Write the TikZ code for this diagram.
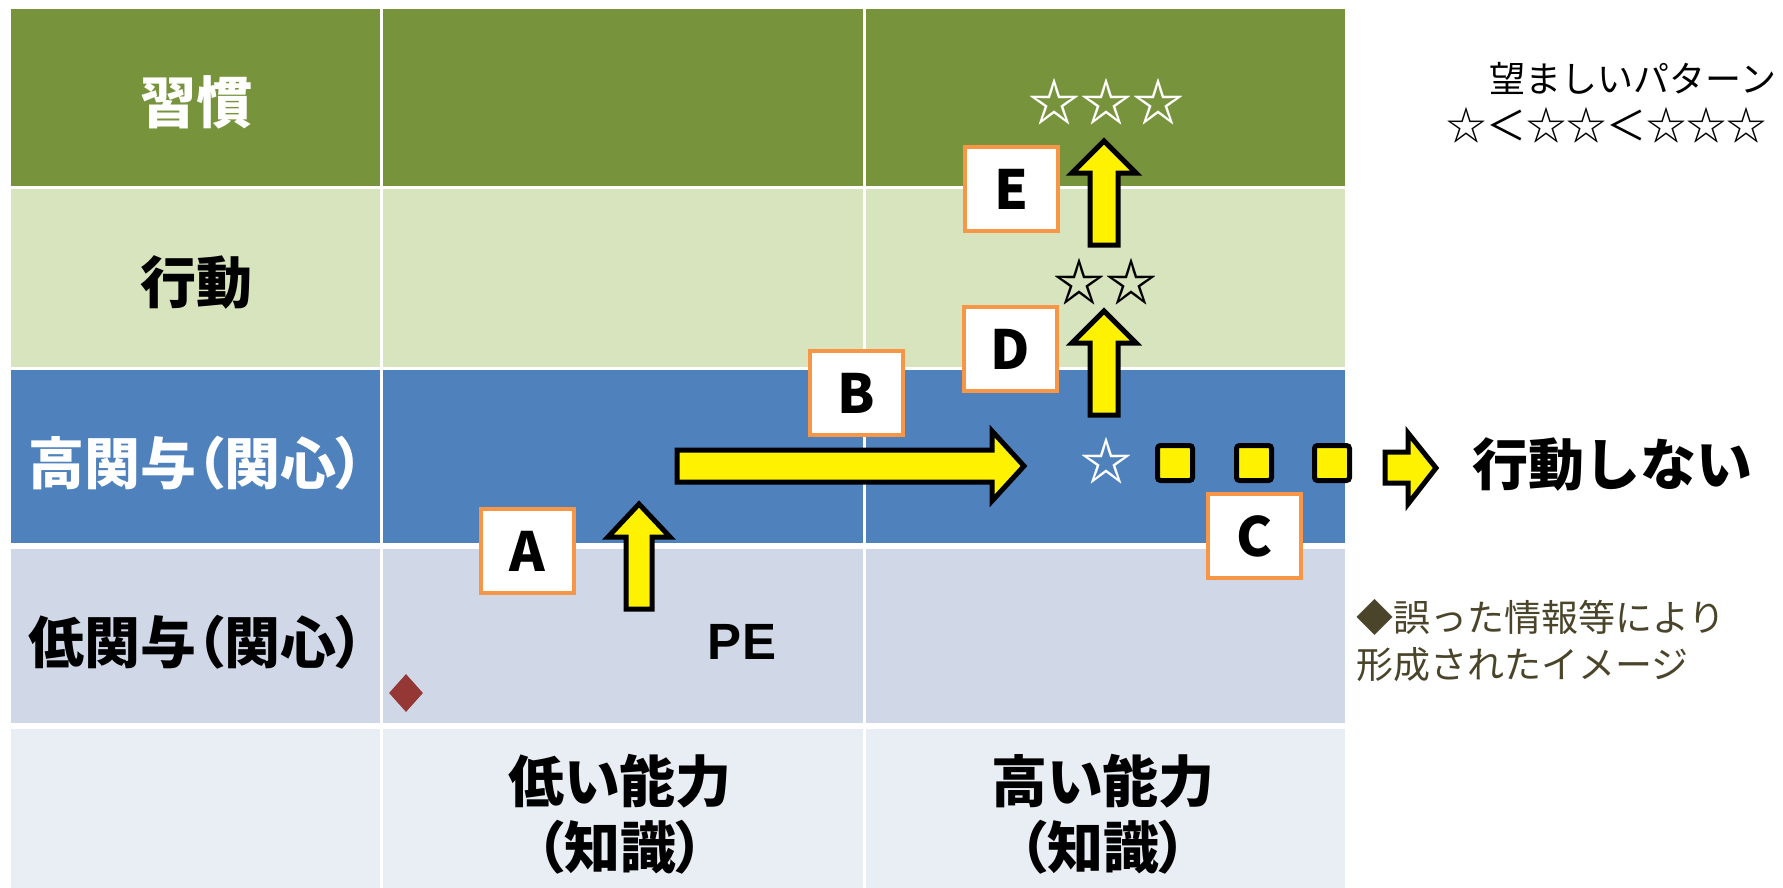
\documentclass[tikz,border=0pt]{standalone}
\usepackage{fontspec}
\setmainfont{Noto Sans CJK JP}
\newfontfamily\jpp{Noto Sans CJK JP}[RawFeature=+palt]
\newfontfamily\latin{Liberation Sans}
\usetikzlibrary{shapes.geometric}
\definecolor{habitgreen}{RGB}{119,147,60}
\definecolor{actgreen}{RGB}{215,228,189}
\definecolor{highblue}{RGB}{79,129,189}
\definecolor{lowgray}{RGB}{208,216,232}
\definecolor{basegray}{RGB}{233,237,244}
\definecolor{boxorange}{RGB}{247,150,70}
\definecolor{markred}{RGB}{149,55,53}
\definecolor{noteolive}{RGB}{74,69,42}
\tikzstyle{rowtext}=[font=\jpp\bfseries\fontsize{56}{66}\selectfont, align=center, inner sep=0pt]
\tikzstyle{letterbox}=[draw=boxorange, fill=white, line width=4pt, minimum width=93pt, minimum height=84pt, font=\bfseries\fontsize{54}{60}\selectfont]
\tikzstyle{yarrow}=[draw=black, fill=yellow, line width=5pt, line join=miter]
\tikzstyle{ysquare}=[draw=black, fill=yellow, line width=5pt, minimum size=35pt, rounded corners=3pt, inner sep=0pt]
\tikzstyle{stars}=[font=\bfseries\fontsize{52}{60}\selectfont, inner sep=0pt]

\begin{document}
\begin{tikzpicture}[x=1pt, y=-1pt]
        \useasboundingbox (0,0) rectangle (1783,888);
        \fill[habitgreen] (11,9) rectangle (1345,187);
        \fill[actgreen] (11,187) rectangle (1345,368);
        \fill[highblue] (11,368) rectangle (1345,546);
        \fill[lowgray] (11,546) rectangle (1345,726);
        \fill[basegray] (11,726) rectangle (1345,888);
        \draw[white, line width=3pt] (381,9) -- (381,888) (864,9) -- (864,888)
            (11,187) -- (1345,187) (11,368) -- (1345,368);
        \draw[white, line width=6pt] (11,546) -- (1345,546) (11,726) -- (1345,726);

        \node[rowtext, white] (habit) at (196,102) {習慣};
        \node[rowtext]        (act) at (196,282) {行動};
        \node[rowtext, white] (high) at (196,463) {高関与（関心）};
        \node[rowtext]        (low) at (196,642) {低関与（関心）};
        \node[rowtext]        (lowskill) at (620,814) {低い能力\\（知識）};
        \node[rowtext]        (highskill) at (1103,814) {高い能力\\（知識）};

        \node[font=\latin\bfseries\fontsize{51}{56}\selectfont, inner sep=0pt] (pe) at (742,642) {PE};
        \node[diamond, fill=markred, inner sep=0pt, minimum width=34pt, minimum height=38pt] (mark) at (406,693) {};

        \draw[yarrow] (626,609) -- (652,609) -- (652,537) -- (670,537) -- (639,504) -- (608,537) -- (626,537) -- cycle;
        \draw[yarrow] (677,450) -- (992,450) -- (992,431) -- (1024,466) -- (992,501) -- (992,482) -- (677,482) -- cycle;
        \draw[yarrow] (1090,415) -- (1118,415) -- (1118,343) -- (1136,343) -- (1104,311) -- (1072,343) -- (1090,343) -- cycle;
        \draw[yarrow] (1090,245) -- (1118,245) -- (1118,173) -- (1136,173) -- (1104,141) -- (1072,173) -- (1090,173) -- cycle;
        \draw[yarrow] (1385,452) -- (1408,452) -- (1408,433) -- (1436,468) -- (1408,504) -- (1408,483) -- (1385,483) -- cycle;

        \node[letterbox] (A) at (527,551) {A};
        \node[letterbox] (B) at (856,393) {B};
        \node[letterbox] (C) at (1254,536) {C};
        \node[letterbox] (D) at (1010,349) {D};
        \node[letterbox] (E) at (1011,189) {E};

        \node[stars, white] (three) at (1106,102) {☆☆☆};
        \node[stars]        (two) at (1105,282) {☆☆};
        \node[stars, white] (one) at (1106,461) {☆};
        \node[ysquare] (sq1) at (1175,463) {};
        \node[ysquare] (sq2) at (1254,463) {};
        \node[ysquare] (sq3) at (1332,463) {};
        \node[font=\bfseries\fontsize{56}{60}\selectfont, inner sep=0pt] (noact) at (1612,464) {行動しない};

        \node[font=\fontsize{36}{40}\selectfont, inner sep=0pt] (wish) at (1633,78) {望ましいパターン};
        \node[font=\fontsize{40}{44}\selectfont, inner sep=0pt] (order) at (1606,125) {☆＜☆☆＜☆☆☆};
        \node[anchor=west, align=left, text=noteolive, font=\fontsize{37}{47}\selectfont, inner sep=0pt] (note) at (1356,641) {◆誤った情報等により\\形成されたイメージ};
\end{tikzpicture}
\end{document}
